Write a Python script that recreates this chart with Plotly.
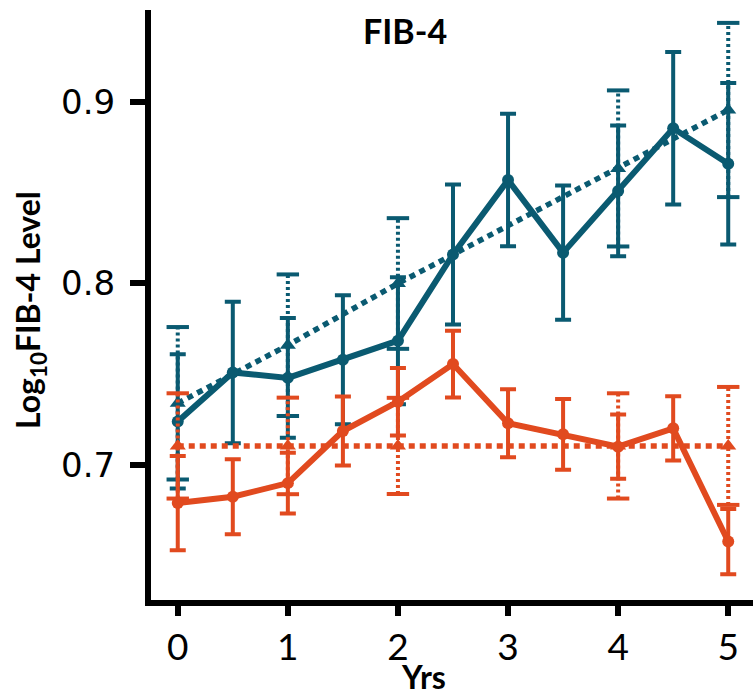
import plotly.graph_objects as go

# Observed FIB-4 (log10) by year, two groups
years_obs = [0, 0.5, 1, 1.5, 2, 2.5, 3, 3.5, 4, 4.5, 5]
blue_obs = [0.724, 0.751, 0.748, 0.758, 0.7685, 0.816, 0.857, 0.817, 0.851, 0.8855, 0.866]
blue_obs_err = [0.037, 0.039, 0.033, 0.0355, 0.035, 0.0386, 0.0365, 0.037, 0.036, 0.042, 0.0445]
red_obs = [0.679, 0.6825, 0.690, 0.7187, 0.7349, 0.7556, 0.723, 0.7169, 0.7101, 0.7202, 0.6578]
red_obs_err = [0.026, 0.0207, 0.0167, 0.019, 0.0186, 0.0184, 0.0187, 0.0195, 0.0177, 0.0177, 0.018]

# Modelled trajectories (dotted)
years_model = [0, 1, 2, 4, 5]
blue_model = [0.734, 0.766, 0.800, 0.8634, 0.8956]
blue_model_err = [0.042, 0.039, 0.036, 0.043, 0.048]
red_model = [0.7105, 0.7105, 0.7105, 0.7105, 0.7105]
red_model_err = [0.029, 0.0266, 0.0265, 0.029, 0.0325]

x_ticks = [0, 1, 2, 3, 4, 5]
y_ticks = [0.7, 0.8, 0.9]
y_tick_labels = ["0.7", "0.8", "0.9"]

BLUE = "#0a5a71"
RED = "#e14a1f"

fig = go.Figure()


def add_dotted_errorbars(xs, ys, errs, color):
    sx, sy = [], []
    cx, cy = [], []
    for x, v, e in zip(xs, ys, errs):
        sx += [x, x, None]
        sy += [v - e, v + e, None]
        cx += [x, x]
        cy += [v - e, v + e]
    fig.add_trace(go.Scatter(
        x=sx, y=sy, mode="lines", showlegend=False, hoverinfo="skip",
        line=dict(color=color, width=4, dash="3px,3px"),
    ))
    fig.add_trace(go.Scatter(
        x=cx, y=cy, mode="markers", showlegend=False, hoverinfo="skip",
        marker=dict(symbol="line-ew", size=16, line=dict(color=color, width=4)),
    ))


def add_model(xs, ys, errs, color):
    add_dotted_errorbars(xs, ys, errs, color)
    fig.add_trace(go.Scatter(
        x=xs, y=ys, mode="lines+markers", showlegend=False,
        line=dict(color=color, width=5.5, dash="6px,5px"),
        marker=dict(symbol="triangle-up", size=14, color=color),
    ))


def add_observed(xs, ys, errs, color):
    fig.add_trace(go.Scatter(
        x=xs, y=ys, mode="lines+markers", showlegend=False,
        line=dict(color=color, width=6),
        marker=dict(symbol="circle", size=12, color=color),
        error_y=dict(type="data", array=errs, visible=True,
                     color=color, thickness=4, width=8),
    ))


add_model(years_model, blue_model, blue_model_err, BLUE)
add_observed(years_obs, blue_obs, blue_obs_err, BLUE)
add_model(years_model, red_model, red_model_err, RED)
add_observed(years_obs, red_obs, red_obs_err, RED)

fig.update_layout(
    width=753, height=695,
    margin=dict(l=151, r=0, t=10, b=95),
    paper_bgcolor="white", plot_bgcolor="white",
    showlegend=False,
    xaxis=dict(
        range=[-0.243, 5.225],
        tickvals=x_ticks, ticktext=[str(v) for v in x_ticks],
        showgrid=False, zeroline=False,
        showline=True, linecolor="black", linewidth=6,
        ticks="outside", ticklen=10, tickwidth=6, tickcolor="black",
        tickfont=dict(family="Lato", size=37, color="black"),
    ),
    yaxis=dict(
        range=[0.6256, 0.9507],
        tickvals=y_ticks, ticktext=y_tick_labels,
        showgrid=False, zeroline=False,
        showline=True, linecolor="black", linewidth=6,
        ticks="outside", ticklen=15, tickwidth=6, tickcolor="black",
        ticklabelstandoff=8,
        tickfont=dict(family="DejaVu Sans", size=34, color="black"),
    ),
    annotations=[
        dict(text="<b>FIB-4</b>", xref="paper", yref="paper",
             x=0.422, y=0.966, xanchor="center", yanchor="middle",
             showarrow=False, font=dict(family="Lato", size=34, color="black")),
        dict(text="<b>Yrs</b>", xref="paper", yref="paper",
             x=0.452, y=0, xanchor="center", yanchor="middle", yshift=-76,
             showarrow=False, font=dict(family="Lato", size=32, color="black")),
        dict(text="<b>Log<sub>10</sub>FIB-4 Level</b>", xref="paper", yref="paper",
             x=0, y=0.5, xanchor="center", yanchor="middle", xshift=-121, yshift=-5,
             textangle=-90, showarrow=False,
             font=dict(family="Lato", size=32, color="black")),
    ],
)

fig.write_html("out.html")
